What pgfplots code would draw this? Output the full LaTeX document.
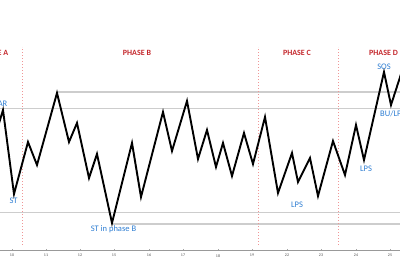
\documentclass[border=0pt]{standalone}
\usepackage{pgfplots}
\pgfplotsset{compat=1.18}
\usepackage{fontspec}
\setmainfont{Carlito}
\definecolor{phasered}{RGB}{196,40,45}
\definecolor{lblue}{RGB}{45,125,210}
\definecolor{hline}{RGB}{205,205,205}
\definecolor{vred}{RGB}{240,150,150}
\begin{document}
\begin{tikzpicture}
\begin{axis}[
  scale only axis, width=400pt, height=260pt,
  xmin=0, xmax=400, ymin=-10, ymax=250,
  axis x line=middle, axis y line=none,
  axis line style={-, draw=gray!80, line width=0.6pt},
  xtick={12,46,80,114,149,183,218,252,287,321,356,390},
  xticklabels={10,11,12,15,16,17,18,19,22,23,24,25},
  ytick=\empty,
  xticklabel style={font=\fontsize{4}{4}\selectfont, text=gray!60!black},
  major tick length=1.5pt, tick style={gray!70},
  clip=true,
]
% horizontal support/resistance lines
\addplot[hline, line width=1.2pt] coordinates {(57,158) (400,158)};
\addplot[hline, line width=1pt] coordinates {(0,141) (400,141)};
\addplot[hline, line width=1.2pt] coordinates {(0,37.5) (400,37.5)};
\addplot[hline, line width=1.2pt] coordinates {(112,26) (400,26)};
% phase separators
\addplot[vred, line width=0.6pt, dash pattern=on 1.2pt off 1.8pt] coordinates {(22,5) (22,203)};
\addplot[vred, line width=0.6pt, dash pattern=on 1.2pt off 1.8pt] coordinates {(258,5) (258,203)};
\addplot[vred, line width=0.6pt, dash pattern=on 1.2pt off 1.8pt] coordinates {(338,5) (338,203)};
% price path
\addplot[black, line width=1.9pt, line join=miter] coordinates {
(-3,120) (3,140) (14,56) (28,108) (37,85) (57,157) (69,108) (77,127)
(89,72) (97,96) (112,27) (132,107) (141,53) (163,138) (172,99) (187,149)
(198,91) (207,120) (216,83) (223,107) (232,74) (244,117) (253,86) (265,133)
(278,57) (292,97) (298,68) (310,92) (318,54) (333,109) (345,75) (356,125)
(364,90) (384,178) (391,145) (403,182)
};
% phase labels
\node[anchor=east, inner sep=0pt, text=phasered, font=\fontsize{8}{8}\selectfont\bfseries] at (8.5,197) {PHASE A};
\node[text=phasered, font=\fontsize{8}{8}\selectfont\bfseries] at (137,197) {PHASE B};
\node[text=phasered, font=\fontsize{8}{8}\selectfont\bfseries] at (297,197) {PHASE C};
\node[text=phasered, font=\fontsize{8}{8}\selectfont\bfseries] at (383.5,197) {PHASE D};
% event labels
\node[anchor=east, inner sep=0pt, text=lblue, font=\fontsize{8.5}{8.5}\selectfont] at (7.5,146) {AR};
\node[text=lblue, font=\fontsize{8.5}{8.5}\selectfont] at (13.5,49) {ST};
\node[text=lblue, font=\fontsize{8.5}{8.5}\selectfont] at (113.5,21) {ST in phase B};
\node[text=lblue, font=\fontsize{8.5}{8.5}\selectfont] at (297,45) {LPS};
\node[text=lblue, font=\fontsize{8.5}{8.5}\selectfont] at (366,81) {LPS};
\node[text=lblue, font=\fontsize{8.5}{8.5}\selectfont] at (384,183) {SOS};
\node[anchor=west, inner sep=0pt, text=lblue, font=\fontsize{8.5}{8.5}\selectfont] at (380,136) {BU/LPS};
\coordinate (sw) at (rel axis cs:0,0);
\coordinate (ne) at (rel axis cs:1,1);
\end{axis}
\pgfresetboundingbox
\useasboundingbox (sw) rectangle (ne);
\end{tikzpicture}
\end{document}
